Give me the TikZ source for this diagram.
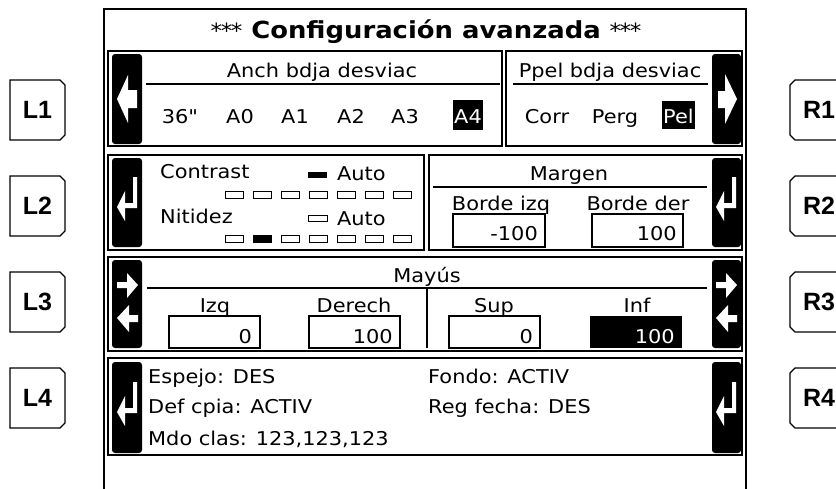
\documentclass[tikz,border=0pt]{standalone}
\usepackage{fontspec}
\newfontfamily\lcd[FakeStretch=1.1]{DejaVu Sans}
\newfontfamily\keyfont{Liberation Sans}
\newcommand\lcdf{\lcd\fontsize{19}{23}\selectfont}
\newcommand\titf{\lcd\bfseries\fontsize{23.5}{27}\selectfont}
\newcommand\keyf{\keyfont\bfseries\fontsize{25}{29}\selectfont}
\newcommand\lcdstars{{\mdseries\fontsize{21}{25}\selectfont *\kern-1.5pt*\kern-1.5pt*}}
\newcommand\lcdArrL[2]{\fill[white,shift={(#1,#2)}] (-10,0) -- (1,-24) -- (1,-9) -- (10,-9) -- (10,9) -- (1,9) -- (1,24) -- cycle;}
\newcommand\lcdArrR[2]{\fill[white,shift={(#1,#2)}] (10,0) -- (-2,-25) -- (-2,-8) -- (-9,-8) -- (-9,9) -- (-2,9) -- (-2,25) -- cycle;}
\newcommand\lcdEnter[2]{\fill[white,shift={(#1,#2)}] (6,-25) -- (10,-25) -- (10,6) -- (-2,6) -- (-2,19) -- (-10,5) -- (-2,-11) -- (-2,1) -- (6,1) -- cycle;}
\newcommand\lcdDual[2]{\fill[white,shift={(#1,#2)}] (-10,-22) -- (0,-22) -- (0,-31) -- (11,-19) -- (0,-6) -- (0,-16) -- (-10,-16) -- cycle;
  \fill[white,shift={(#1,#2)}] (11,11) -- (2,11) -- (2,1) -- (-10,14) -- (2,28) -- (2,18) -- (11,18) -- cycle;}
\begin{document}
\begin{tikzpicture}[x=1pt,y=-1pt,
  lbl/.style={inner sep=0pt, font=\lcdf},
  frm/.style={draw, line width=1.5pt},
  hbtn/.style={fill=black, rounded corners=3pt},
  vbox/.style={draw, line width=1.3pt},
  rulel/.style={line width=1.4pt},
  keybox/.style={draw, line width=1.3pt},
  mini/.style={draw, line width=1pt}]
\clip (0,0) rectangle (836,488);
\fill[white] (0,0) rectangle (836,488);

% screen border
\draw[line width=1.8pt] (104,500) -- (104,9) -- (746,9) -- (746,500);
\node[lbl, font=\titf, anchor=base] (title) at (426,38) {\lcdstars\ Configuración avanzada \lcdstars};

% side keys
\foreach \yy/\n in {80/1,176/2,272/3,368/4} {
  \draw[keybox] (10,\yy) -- (60,\yy) -- (65,\yy+5) -- (65,\yy+55) -- (60,\yy+60) -- (10,\yy+60) -- cycle;
  \node[font=\keyf, inner sep=0pt] (L\n) at (37.5,\yy+30) {L\n};
  \draw[keybox] (850,\yy) -- (795,\yy) -- (790,\yy+5) -- (790,\yy+55) -- (795,\yy+60) -- (850,\yy+60);
  \node[font=\keyf, inner sep=0pt] (R\n) at (819,\yy+30) {R\n};
}

% section frames
\draw[frm] (108,51) rectangle (502,146);
\draw[frm] (506,51) rectangle (742,146);
\draw[frm] (108,155) rectangle (424,250);
\draw[frm] (429,155) rectangle (742,250);
\draw[frm] (108,257) rectangle (742,351);
\draw[frm] (108,358) rectangle (742,455);

% black buttons
\fill[hbtn] (112,54) rectangle (142,144);
\fill[hbtn] (712,54) rectangle (741,144);
\fill[hbtn] (112,158) rectangle (142,247);
\fill[hbtn] (712,158) rectangle (741,247);
\fill[hbtn] (112,260) rectangle (142,348);
\fill[hbtn] (712,260) rectangle (741,348);
\fill[hbtn] (112,362) rectangle (142,453);
\fill[hbtn] (712,362) rectangle (741,453);
\lcdArrL{127}{99}
\lcdArrR{727}{99}
\lcdEnter{127}{202}
\lcdEnter{726}{202}
\lcdDual{127}{304}
\lcdDual{726}{304}
\lcdEnter{127}{407}
\lcdEnter{726}{407}

% section 1
\node[lbl, anchor=base] (anch) at (322,77) {Anch bdja desviac};
\draw[rulel] (146,84) -- (500,84);
\node[lbl, anchor=base] (ppel) at (610,77) {Ppel bdja desviac};
\draw[rulel] (513,84) -- (708,84);
\node[lbl, anchor=base] (i36) at (180,123) {36"};
\node[lbl, anchor=base] (iA0) at (240,123) {A0};
\node[lbl, anchor=base] (iA1) at (295,123) {A1};
\node[lbl, anchor=base] (iA2) at (351,123) {A2};
\node[lbl, anchor=base] (iA3) at (405,123) {A3};
\fill (453,100) rectangle (483,130);
\node[lbl, anchor=base, text=white] (iA4) at (468,123) {A4};
\node[lbl, anchor=base] (corr) at (547,123) {Corr};
\node[lbl, anchor=base] (perg) at (615,123) {Perg};
\fill (662,101) rectangle (695,129);
\node[lbl, anchor=base, text=white] (pel) at (678.5,123) {Pel};

% section 2 left
\node[lbl, anchor=base west] (contrast) at (160,178) {Contrast};
\fill (308,172) rectangle (327,178);
\node[lbl, anchor=base west] (auto1) at (337,180) {Auto};
\foreach \i in {0,...,6} {
  \draw[mini] ({225+28*\i},191) rectangle ({243+28*\i},198);
  \draw[mini] ({225+28*\i},235) rectangle ({243+28*\i},242);
}
\fill (253,235) rectangle (271,242);
\node[lbl, anchor=base west] (nitidez) at (160,223) {Nitidez};
\draw[mini] (308,215) rectangle (327,221);
\node[lbl, anchor=base west] (auto2) at (337,225) {Auto};

% section 2 right
\node[lbl, anchor=base] (margen) at (569,180) {Margen};
\draw[rulel] (433,187) -- (707,187);
\node[lbl, anchor=base] (bizq) at (501,210) {Borde izq};
\node[lbl, anchor=base] (bder) at (638,210) {Borde der};
\draw[vbox] (453,214) rectangle (545,247);
\node[lbl, anchor=base east] (vbizq) at (538,240) {-100};
\draw[vbox] (592,214) rectangle (683,247);
\node[lbl, anchor=base east] (vbder) at (677,240) {100};

% section 3
\node[lbl, anchor=base] (mayus) at (427,282) {Mayús};
\draw[rulel] (147,288) -- (707,288);
\draw[rulel] (427,288) -- (427,348);
\node[lbl, anchor=base] (izq) at (215,312) {Izq};
\node[lbl, anchor=base] (derech) at (354,312) {Derech};
\node[lbl, anchor=base] (sup) at (494,312) {Sup};
\node[lbl, anchor=base] (inf) at (637,312) {Inf};
\draw[vbox] (169,316) rectangle (260,348);
\node[lbl, anchor=base east] (vizq) at (252,343) {0};
\draw[vbox] (309,316) rectangle (400,348);
\node[lbl, anchor=base east] (vder) at (393,343) {100};
\draw[vbox] (449,316) rectangle (540,348);
\node[lbl, anchor=base east] (vsup) at (533,343) {0};
\fill (590,316) rectangle (682,348);
\node[lbl, anchor=base east, text=white] (vinf) at (675,343) {100};

% section 4
\node[lbl, anchor=base west] (espejo) at (148,383) {Espejo: DES};
\node[lbl, anchor=base west] (defcpia) at (148,413) {Def cpia: ACTIV};
\node[lbl, anchor=base west] (mdo) at (148,445) {Mdo clas: 123,123,123};
\node[lbl, anchor=base west] (fondo) at (428,383) {Fondo: ACTIV};
\node[lbl, anchor=base west] (regf) at (428,413) {Reg fecha: DES};
\end{tikzpicture}
\end{document}
